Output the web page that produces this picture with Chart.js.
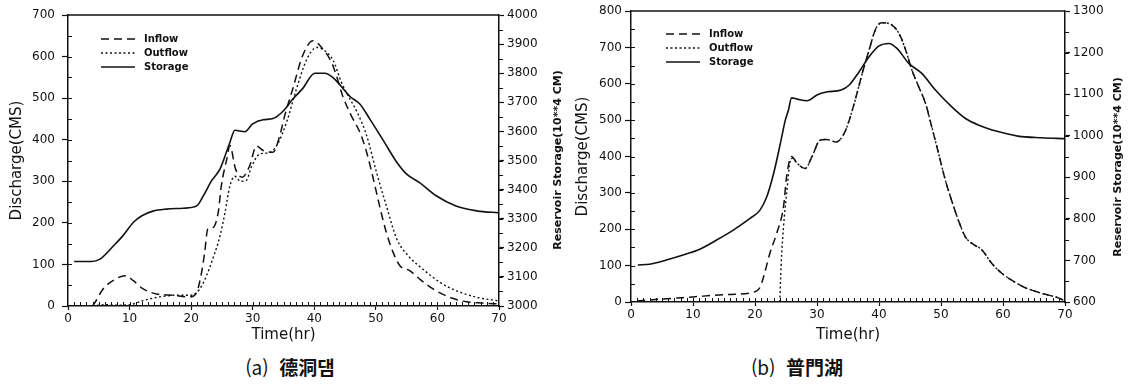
<!DOCTYPE html>
<html lang="ko">
<head>
<meta charset="UTF-8">
<title>Reservoir inflow / outflow / storage</title>
<style>
    body { margin: 0; background: #fff; }
    #wrap { position: relative; width: 1132px; height: 385px; overflow: hidden; }
    .panel { position: absolute; top: 0; }
    .cap {
        position: absolute; top: 353px; width: 200px; text-align: center;
        font-family: "Noto Sans CJK KR", sans-serif; font-size: 19px; color: #111;
        white-space: nowrap;
    }
    .cap b { font-weight: 700; }
</style>
</head>
<body>
<div id="wrap">
    <canvas id="chartA" class="panel" width="566" height="345" style="left:0"></canvas>
    <canvas id="chartB" class="panel" width="566" height="345" style="left:566px"></canvas>
    <div class="cap" style="left:190px">(a)&nbsp; <b>德洞댐</b></div>
    <div class="cap" style="left:697px">(b)&nbsp; <b>普門湖</b></div>
</div>

<script src="https://cdn.jsdelivr.net/npm/chart.js"></script>
<script>
    // (a) 德洞댐 — discharge in CMS, storage in 10**4 CM
    const aInflowT = [4, 4.4, 5.7, 7.3, 9.3, 10.6, 12.2, 14.4, 17, 19.8, 20.9, 21.7, 22.2, 22.7, 23.5, 24.4, 24.9, 25.8, 26.3, 27.2, 28.3, 29.5, 30.6, 31.7, 33.3, 34.4, 35.2, 36.5, 38.1, 39.8, 41.4, 42.8, 43.6, 44.6, 46, 47.4, 48.5, 49.6, 50.6, 51.7, 52.8, 53.9, 55.5, 57.1, 59.3, 62, 64.7, 67.4, 70];
    const aInflowQ = [0, 9, 41, 61, 73, 61, 41, 29, 26, 22, 33, 81, 129, 185, 188, 225, 289, 354, 386, 330, 310, 337, 385, 374, 370, 410, 458, 522, 602, 638, 618, 586, 554, 506, 458, 418, 370, 305, 241, 177, 129, 97, 85, 65, 41, 21, 10, 7, 5];
    const aOutflowT = [4, 6, 8, 10, 12.2, 14.9, 17.6, 20, 21.4, 22.5, 23.5, 24.7, 25.5, 26.3, 27.1, 28, 29, 29.8, 31.2, 32.5, 33.9, 35.5, 37.1, 38.8, 40.4, 41.7, 43.1, 44.4, 45.8, 47.1, 48.5, 50.1, 51.7, 53.4, 55.5, 57.6, 60.4, 63, 66.4, 70];
    const aOutflowQ = [0, 3, 2, 3, 13, 22, 26, 26, 41, 73, 113, 169, 225, 289, 312, 300, 303, 335, 366, 368, 386, 442, 522, 594, 622, 614, 590, 538, 498, 462, 410, 322, 241, 161, 117, 89, 57, 37, 21, 12];
    const aStorageT = [1, 3.8, 5.2, 7.4, 8.9, 10.6, 12, 13.8, 16, 18.7, 20.9, 22, 23.3, 24.7, 26.3, 27.1, 28.7, 30, 31.7, 33.3, 35, 36.5, 38.1, 40.1, 41.7, 43, 44.2, 45.8, 47.4, 49, 51.2, 53.4, 55, 57.1, 59.8, 63, 66.4, 70];
    const aStorageV = [3153, 3153, 3161, 3207, 3241, 3287, 3310, 3326, 3333, 3336, 3344, 3379, 3430, 3471, 3563, 3604, 3599, 3626, 3640, 3644, 3671, 3711, 3747, 3800, 3800, 3786, 3759, 3720, 3694, 3643, 3569, 3494, 3453, 3424, 3379, 3344, 3327, 3320];

    // (b) 普門湖
    const bInflowT = [1, 5, 10, 15, 19.8, 20.8, 21.4, 22.4, 23.5, 24.6, 25.1, 25.9, 26.8, 28.1, 29.2, 30.5, 31.5, 33.1, 34.4, 35.2, 36.3, 37.3, 38.4, 39.5, 40.5, 42.1, 43.2, 44.3, 45.3, 46.4, 47.5, 48.5, 49.6, 50.7, 51.7, 52.8, 53.9, 55, 56.6, 58.2, 59.8, 61.4, 63.5, 66.2, 68.8, 70];
    const bInflowQ = [3, 8, 14, 20, 27, 40, 70, 134, 189, 262, 345, 400, 381, 367, 400, 445, 447, 440, 464, 500, 564, 629, 693, 752, 768, 761, 739, 693, 638, 592, 546, 482, 409, 335, 280, 225, 180, 161, 143, 106, 79, 60, 40, 24, 12, 3];
    const bOutflowT = [24, 24.2, 24.6, 25.1, 25.7, 26, 26.8, 28.1, 29.2, 30.5, 31.5, 33.1, 34.4, 35.2, 36.3, 37.3, 38.4, 39.5, 40.5, 42.1, 43.2, 44.3, 45.3, 46.4, 47.5, 48.5, 49.6, 50.7, 51.7, 52.8, 53.9, 55, 56.6, 58.2, 59.8, 61.4, 63.5, 66.2, 68.8, 70];
    const bOutflowQ = [0, 97, 207, 299, 390, 395, 381, 367, 400, 445, 447, 440, 464, 500, 564, 629, 693, 752, 768, 761, 739, 693, 638, 592, 546, 482, 409, 335, 280, 225, 180, 161, 143, 106, 79, 60, 40, 24, 12, 3];
    const bStorageT = [1.1, 3, 5.7, 8.4, 11.1, 13.8, 16.5, 19.2, 20.8, 21.9, 23, 24.1, 24.9, 25.4, 25.9, 26.8, 28.4, 30, 31.5, 33.9, 35.2, 36.8, 38.4, 40, 41.6, 42.9, 44.8, 46.9, 49.1, 51.7, 53.9, 56, 59.2, 62.4, 66.2, 70];
    const bStorageV = [689, 691, 701, 713, 727, 749, 773, 801, 821, 853, 909, 982, 1038, 1062, 1091, 1088, 1084, 1098, 1105, 1110, 1122, 1154, 1190, 1216, 1222, 1210, 1174, 1150, 1110, 1070, 1042, 1026, 1010, 999, 995, 993];

    const seriesNames = ['Inflow', 'Outflow', 'Storage'];
    const storageTitle = 'Reservoir Storage(10**4 CM)';

    Chart.defaults.font.family = '"DejaVu Sans", sans-serif';
    Chart.defaults.color = '#111';

    const pts = (t, v) => t.map((x, i) => ({x: x, y: v[i]}));

    // frame top, minor ticks, in-plot legend and the upward right-hand title
    const decor = {
        id: 'decor',
        afterDraw(chart, args, o) {
            const {ctx, chartArea: a, scales} = chart;
            ctx.save();
            ctx.strokeStyle = '#111';
            ctx.lineWidth = 1.5;
            ctx.beginPath();
            ctx.moveTo(a.left, a.top);
            ctx.lineTo(a.right, a.top);
            ctx.stroke();

            ctx.lineWidth = 1;
            ctx.beginPath();
            for (let v = 1; v < 70; v++) {
                const px = Math.round(scales.x.getPixelForValue(v)) + 0.5;
                ctx.moveTo(px, a.bottom);
                ctx.lineTo(px, a.bottom - 4);
            }
            for (let v = scales.y.min + 50; v < scales.y.max; v += 50) {
                const py = Math.round(scales.y.getPixelForValue(v)) + 0.5;
                ctx.moveTo(a.left, py);
                ctx.lineTo(a.left + 4, py);
            }
            for (let v = scales.y2.min + 50; v < scales.y2.max; v += 50) {
                const py = Math.round(scales.y2.getPixelForValue(v)) + 0.5;
                ctx.moveTo(a.right, py);
                ctx.lineTo(a.right + 4, py);
            }
            ctx.stroke();

            // legend
            ctx.font = 'bold 10px "DejaVu Sans"';
            ctx.fillStyle = '#111';
            ctx.textBaseline = 'middle';
            chart.data.datasets.forEach((ds, i) => {
                const y = o.legendY + i * 14;
                ctx.setLineDash(ds.borderDash || []);
                ctx.lineWidth = ds.borderWidth;
                ctx.beginPath();
                ctx.moveTo(o.legendX, y);
                ctx.lineTo(o.legendX + 34, y);
                ctx.stroke();
                ctx.setLineDash([]);
                ctx.fillText(ds.label, o.legendX + 43, y);
            });

            ctx.translate(o.titleX, o.titleY);
            ctx.rotate(-Math.PI / 2);
            ctx.textAlign = 'center';
            ctx.font = 'bold 11px "DejaVu Sans"';
            ctx.fillText(storageTitle, 0, 0);
            ctx.restore();
        }
    };

    function makePanel(id, inflow, outflow, storage, lay) {
        const tickFont = {size: 12};
        return new Chart(document.getElementById(id), {
            type: 'line',
            data: {
                datasets: [
                    {label: seriesNames[0], data: inflow, yAxisID: 'y', borderColor: '#111', borderWidth: 1.5, borderDash: [8, 5]},
                    {label: seriesNames[1], data: outflow, yAxisID: 'y', borderColor: '#111', borderWidth: 1.4, borderDash: [2, 2.5]},
                    {label: seriesNames[2], data: storage, yAxisID: 'y2', borderColor: '#111', borderWidth: 1.6}
                ]
            },
            options: {
                responsive: false,
                animation: false,
                devicePixelRatio: 1,
                elements: {point: {radius: 0}, line: {cubicInterpolationMode: 'monotone', fill: false}},
                layout: {padding: {top: lay.top, left: 0, right: 0, bottom: 0}},
                plugins: {
                    legend: {display: false},
                    tooltip: {enabled: false},
                    decor: {legendX: lay.legendX, legendY: lay.legendY, titleX: lay.titleX, titleY: lay.titleY}
                },
                scales: {
                    x: {
                        type: 'linear', min: 0, max: 70,
                        ticks: {stepSize: 10, font: tickFont, padding: 2, maxRotation: 0},
                        grid: {drawOnChartArea: false, tickLength: 4, color: '#111', tickWidth: 1.2},
                        border: {color: '#111', width: 1.5},
                        title: {display: true, text: 'Time(hr)', font: {size: 15}, padding: {top: 0, bottom: 1}},
                        afterFit: s => { s.height = lay.xHeight; }
                    },
                    y: {
                        position: 'left', min: 0, max: lay.qMax,
                        ticks: {stepSize: 100, font: tickFont, padding: lay.yPad},
                        grid: {drawOnChartArea: false, tickLength: 6, color: '#111', tickWidth: 1.2},
                        border: {color: '#111', width: 1.5},
                        title: {display: true, text: 'Discharge(CMS)', font: {size: 15}, padding: {top: 8, bottom: 0}},
                        afterFit: s => { s.width = lay.yWidth; }
                    },
                    y2: {
                        position: 'right', min: lay.sMin, max: lay.sMax,
                        ticks: {stepSize: 100, font: tickFont, padding: 3, callback: v => String(v)},
                        grid: {drawOnChartArea: false, tickLength: 5, color: '#111', tickWidth: 1.2},
                        border: {color: '#111', width: 1.5},
                        afterFit: s => { s.width = 67; }
                    }
                }
            },
            plugins: [decor]
        });
    }

    makePanel('chartA', pts(aInflowT, aInflowQ), pts(aOutflowT, aOutflowQ), pts(aStorageT, aStorageV),
        {top: 15, xHeight: 39, yWidth: 68, yPad: 7, qMax: 700, sMin: 3000, sMax: 4000,
         legendX: 101, legendY: 39, titleX: 558, titleY: 160});
    makePanel('chartB', pts(bInflowT, bInflowQ), pts(bOutflowT, bOutflowQ), pts(bStorageT, bStorageV),
        {top: 11, xHeight: 43, yWidth: 65, yPad: 3, qMax: 800, sMin: 600, sMax: 1300,
         legendX: 100, legendY: 34, titleX: 552, titleY: 167});
</script>
</body>
</html>
